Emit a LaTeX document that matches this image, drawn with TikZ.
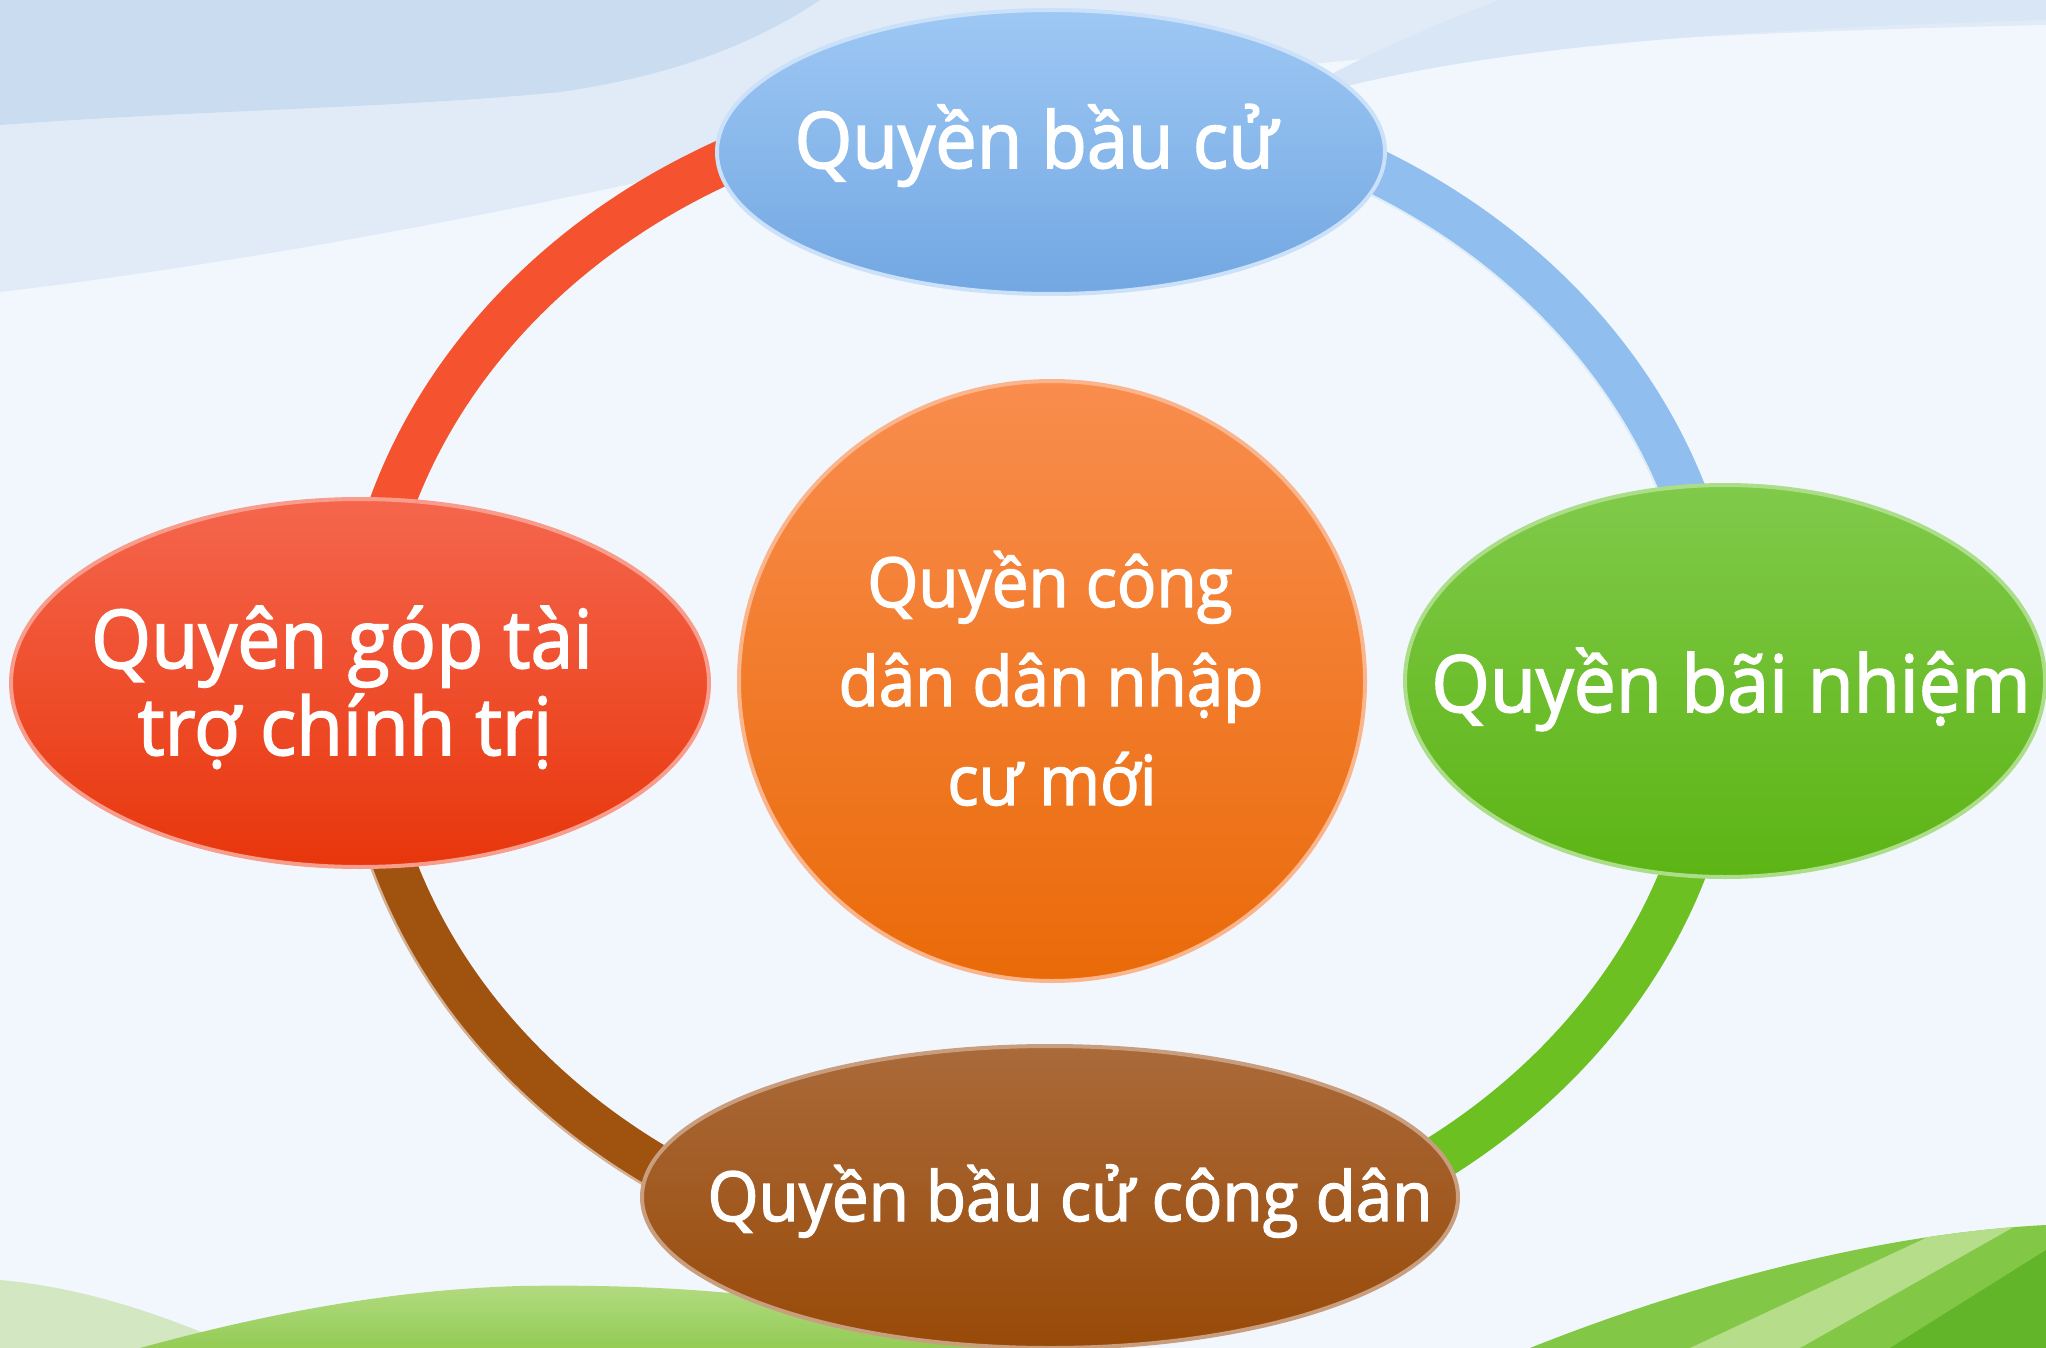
\documentclass[tikz,border=0pt]{standalone}
\usepackage{fontspec}
\setmainfont{Open Sans}[FakeStretch=0.95, FakeBold=2]
\usetikzlibrary{shapes.geometric}
\definecolor{bgbase}{HTML}{F2F7FD}
\definecolor{skyA}{HTML}{CADCF0}
\definecolor{skyB}{HTML}{E0EBF7}
\definecolor{skyC}{HTML}{D8E6F5}
\definecolor{hillfade}{HTML}{D3E8C2}
\definecolor{hillL1}{HTML}{B3DB82}
\definecolor{hillL2}{HTML}{93CC55}
\definecolor{hillR}{HTML}{82C846}
\definecolor{hillRl}{HTML}{B6DD8A}
\definecolor{hillRd}{HTML}{62B428}
\definecolor{blueT}{HTML}{9EC8F4}
\definecolor{blueB}{HTML}{72A7E2}
\definecolor{blueArc}{HTML}{8FBEEF}
\definecolor{orT}{HTML}{F98D4E}
\definecolor{orB}{HTML}{EA6A08}
\definecolor{redT}{HTML}{F5664D}
\definecolor{redB}{HTML}{E8360C}
\definecolor{redArc}{HTML}{F5522F}
\definecolor{grT}{HTML}{80CA4A}
\definecolor{grB}{HTML}{5CB414}
\definecolor{grArc}{HTML}{6CC022}
\definecolor{brT}{HTML}{AA6A3A}
\definecolor{brB}{HTML}{984A08}
\definecolor{brArc}{HTML}{A0520F}
\tikzset{
  bub/.style={ellipse, inner sep=0pt, line width=4pt},
  lbl/.style={text=white, anchor=base, inner sep=0pt},
  arcst/.style={line width=45pt},
}
\begin{document}
\begin{tikzpicture}[x=1pt,y=-1pt]
\useasboundingbox (0,0) rectangle (2046,1348);
% background
\fill[bgbase] (0,0) rectangle (2046,1348);
\fill[skyB] (0,0) -- (2046,0) -- (2046,25) .. controls (1600,35) and (1200,60) .. (900,125) .. controls (650,180) and (350,250) .. (0,292) -- cycle;
\fill[skyA] (0,0) -- (820,0) .. controls (760,40) and (680,75) .. (560,92) .. controls (400,108) and (200,110) .. (0,125) -- cycle;
\fill[skyC] (1280,105) .. controls (1450,50) and (1700,30) .. (2046,20) -- (2046,0) -- (1500,0) .. controls (1420,30) and (1330,70) .. (1280,105) -- cycle;
% hills
\fill[hillfade] (0,1280) .. controls (90,1288) and (170,1318) .. (240,1348) -- (0,1348) -- cycle;
\shade[top color=hillL1, bottom color=hillL2] (140,1348) .. controls (250,1318) and (380,1290) .. (520,1286) .. controls (700,1283) and (860,1300) .. (1000,1348) -- cycle;
\begin{scope}
\clip (1530,1348) .. controls (1650,1300) and (1850,1235) .. (2046,1225) -- (2046,1348) -- cycle;
\fill[hillR] (1500,1200) rectangle (2046,1348);
\fill[hillRl] (1690,1348) -- (1975,1215) -- (2035,1215) -- (1800,1348) -- cycle;
\fill[hillRd] (1890,1348) -- (2046,1250) -- (2046,1348) -- cycle;
\end{scope}
% ring
\coordinate (ring) at (1040,682);
\draw[arcst, redArc] (ring) ++(180:680 and 587) arc[start angle=180, end angle=270, x radius=680, y radius=587];
\draw[arcst, blueArc] (ring) ++(270:680 and 587) arc[start angle=270, end angle=360, x radius=680, y radius=587];
\draw[arcst, grArc] (ring) ++(0:680 and 587) arc[start angle=0, end angle=90, x radius=680, y radius=587];
\draw[arcst, brArc] (ring) ++(90:680 and 587) arc[start angle=90, end angle=180, x radius=680, y radius=587];
% thin highlights
\draw[line width=2.5pt, white!55!brArc] (ring) ++(95:702 and 609) arc[start angle=95, end angle=175, x radius=702, y radius=609];
\draw[line width=2pt, white!70!blueArc] (ring) ++(300:657 and 564) arc[start angle=300, end angle=340, x radius=657, y radius=564];
% nodes
\node[bub, minimum width=668pt, minimum height=284pt, top color=blueT, bottom color=blueB, draw=white!45!blueT] (T) at (1051,152) {};
\node[bub, minimum width=626pt, minimum height=600pt, top color=orT, bottom color=orB, draw=white!35!orT] (C) at (1052,681) {};
\node[bub, minimum width=698pt, minimum height=368pt, top color=redT, bottom color=redB, draw=white!35!redT] (L) at (360,683) {};
\node[bub, minimum width=640pt, minimum height=392pt, top color=grT, bottom color=grB, draw=white!35!grT] (R) at (1725,681) {};
\node[bub, minimum width=816pt, minimum height=302pt, top color=brT, bottom color=brB, draw=white!35!brT] (B) at (1050,1197) {};
% labels
\node[lbl, font=\fontsize{78}{80}\selectfont] (tT) at (1036,168) {Quyền bầu cử};
\node[lbl, font=\fontsize{79}{80}\selectfont] (tR) at (1731,712) {Quyền bãi nhiệm};
\node[lbl, font=\fontsize{81}{80}\selectfont] (tL1) at (342,668) {Quyên góp tài};
\node[lbl, font=\fontsize{80}{80}\selectfont] (tL2) at (345,755) {trợ chính trị};
\node[lbl, font=\fontsize{69}{72}\selectfont] (tB) at (1070,1221) {Quyền bầu cử công dân};
\node[lbl, font=\fontsize{69}{72}\selectfont] (tC1) at (1050,607) {Quyền công};
\node[lbl, font=\fontsize{69}{72}\selectfont] (tC2) at (1051,706) {dân dân nhập};
\node[lbl, font=\fontsize{69}{72}\selectfont] (tC3) at (1052,805) {cư mới};
\end{tikzpicture}
\end{document}
